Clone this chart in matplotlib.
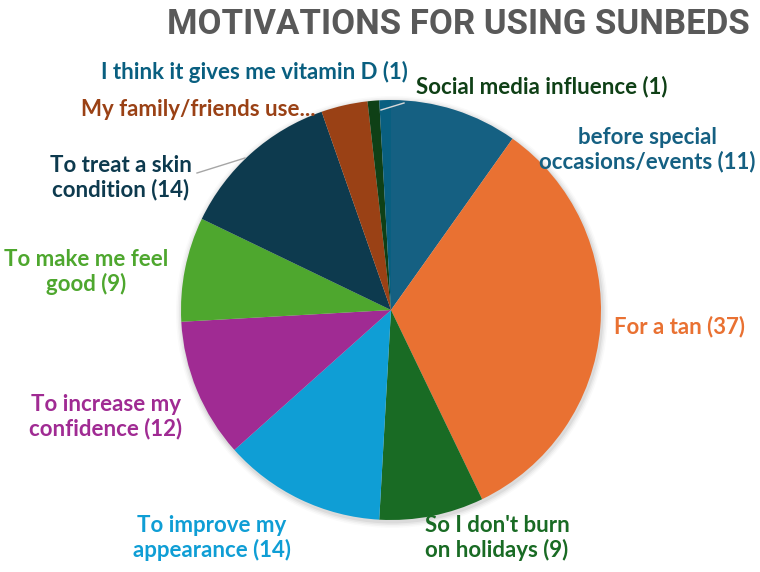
import matplotlib
matplotlib.use("Agg")
import matplotlib.pyplot as plt
from matplotlib.patches import Circle

categories = [
    "before special\noccasions/events",
    "For a tan",
    "So I don't burn\non holidays",
    "To improve my\nappearance",
    "To increase my\nconfidence",
    "To make me feel\ngood",
    "To treat a skin\ncondition",
    "My family/friends use...",
    "Social media influence",
    "I think it gives me vitamin D",
]
values = [11, 37, 9, 14, 12, 9, 14, 4, 1, 1]
colors = ["#156082", "#E97132", "#196B24", "#0F9ED5", "#A02B93",
          "#4EA72E", "#0D3A4E", "#9A4115", "#0F4016", "#095F80"]
title = "MOTIVATIONS FOR USING SUNBEDS"

W, H = 760, 572
fig = plt.figure(figsize=(W / 100, H / 100), dpi=100)
ax = fig.add_axes([0, 0, 1, 1])

cx, cy, r = 391, H - 310, 210

# soft shadow
for k, a in enumerate([0.05, 0.04, 0.03, 0.02]):
    ax.add_patch(Circle((cx + 1, cy - 2), r + 1.5 + k * 1.5, color="#000000",
                        alpha=a, lw=0, zorder=0))

ax.pie(values, colors=colors, startangle=90, counterclock=False,
       center=(cx, cy), radius=r, frame=True,
       wedgeprops=dict(linewidth=0))
ax.set_xlim(0, W)
ax.set_ylim(0, H)
ax.set_aspect("equal")
ax.axis("off")

# label positions in pixel coords (x, y from top)
label_pos = [
    (647, 150),
    (680, 327),
    (497, 538),
    (212, 538),
    (106, 417),
    (86, 272),
    (121, 178),
    (198, 110),
    (542, 87),
    (254, 72),
]
font = dict(family="Lato", weight="bold", fontsize=16)
for cat, v, col, (lx, ly) in zip(categories, values, colors, label_pos):
    if cat.endswith("..."):
        txt = cat
    else:
        txt = f"{cat} ({v})"
    ax.text(lx, H - ly, txt, color=col, ha="center", va="center",
            multialignment="center", linespacing=1.15, **font)

# leader lines
ax.plot([197, 245], [H - 173, H - 158], color="#A6A6A6", lw=1)
ax.plot([381, 404], [H - 110, H - 103], color="#D9D9D9", lw=1)

ax.text(750, H - 24, title, ha="right", va="center", color="#595959",
        family=["Roboto", "DejaVu Sans"], weight="bold",
        fontsize=25)

fig.savefig("out.png", dpi=100)
